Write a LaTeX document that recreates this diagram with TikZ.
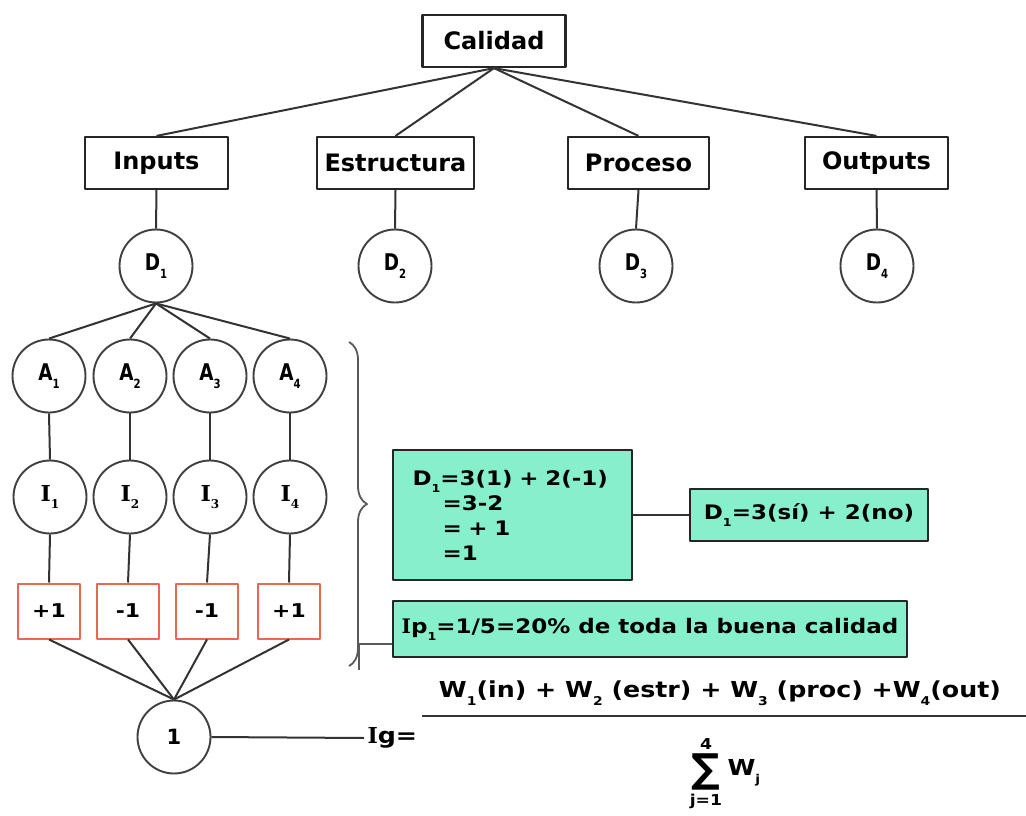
\documentclass[tikz,border=0pt]{standalone}
\usepackage{fontspec}
\usepackage{graphicx}
\setmainfont{DejaVu Sans}
\newfontfamily\wfont{DejaVu Sans}[FakeStretch=1.15]
\newfontfamily\nfont{DejaVu Sans}[FakeStretch=0.8]
\newfontfamily\serfont{DejaVu Serif}
\usetikzlibrary{decorations.pathreplacing}
\newcommand{\sbs}[1]{\raisebox{-0.35em}{\scalebox{0.55}{#1}}}
\newcommand{\fsz}[1]{\fontsize{#1}{#1}\selectfont}
\definecolor{mint}{RGB}{134,240,204}
\definecolor{rboxc}{RGB}{232,105,80}
\begin{document}
\begin{tikzpicture}[x=1pt,y=-1pt,line join=round,
  conn/.style={draw=black!80,line width=2pt},
  tbox/.style={draw=black!85,line width=2.2pt,minimum height=52pt,inner sep=0pt,font=\fsz{24}\bfseries},
  circ/.style={circle,draw=black!75,line width=1.9pt,minimum size=73pt,inner sep=0pt,fill=white},
  dlab/.style={font=\nfont\fsz{23}\bfseries},
  ilab/.style={font=\serfont\fsz{22}\bfseries},
  rbox/.style={draw=rboxc,line width=2pt,minimum width=62pt,minimum height=55pt,inner sep=0pt,fill=white,font=\wfont\fsz{19}\bfseries},
  gbox/.style={draw=black!85,fill=mint,line width=2.4pt,inner sep=0pt},
  ftext/.style={font=\wfont\fsz{22}\bfseries}
]
\fill[white] (0,0) rectangle (1026,816);
\useasboundingbox (0,0) rectangle (1026,816);

% top level
\node[tbox,minimum width=143pt] (cal) at (494,41) {Calidad};
\node[tbox,minimum width=143pt] (inp) at (156.5,163) {Inputs};
\node[tbox,minimum width=157pt] (est) at (395.5,163) {Estructura};
\node[tbox,minimum width=141pt] (pro) at (638.5,163) {Proceso};
\node[tbox,minimum width=143pt] (out) at (876.5,163) {Outputs};
\foreach \b in {inp,est,pro,out} \draw[conn] (cal.south) -- (\b.north);

% D circles
\node[circ,dlab] (d1) at (156,266) {D\sbs{1}};
\node[circ,dlab] (d2) at (395,266) {D\sbs{2}};
\node[circ,dlab] (d3) at (636,266) {D\sbs{3}};
\node[circ,dlab] (d4) at (877,266) {D\sbs{4}};
\draw[conn] (inp.south) -- (d1.north);
\draw[conn] (est.south) -- (d2.north);
\draw[conn] (pro.south) -- (d3.north);
\draw[conn] (out.south) -- (d4.north);

% A circles
\node[circ,dlab] (a1) at (49,376) {A\sbs{1}};
\node[circ,dlab] (a2) at (130,376) {A\sbs{2}};
\node[circ,dlab] (a3) at (210,376) {A\sbs{3}};
\node[circ,dlab] (a4) at (290,376) {A\sbs{4}};
\foreach \a in {a1,a2,a3,a4} \draw[conn] (d1.south) -- (\a.north);

% I circles
\node[circ,ilab] (i1) at (50,497) {I\sbs{1}};
\node[circ,ilab] (i2) at (130,497) {I\sbs{2}};
\node[circ,ilab] (i3) at (210,497) {I\sbs{3}};
\node[circ,ilab] (i4) at (290,497) {I\sbs{4}};
\foreach \n in {1,2,3,4} \draw[conn] (a\n.south) -- (i\n.north);

% red boxes
\node[rbox] (r1) at (49,611) {+1};
\node[rbox] (r2) at (128,611) {-1};
\node[rbox] (r3) at (207,611) {-1};
\node[rbox] (r4) at (289,611) {+1};
\foreach \n in {1,2,3,4} \draw[conn] (i\n.south) -- (r\n.north);

% bottom circle
\node[circ,font=\fsz{21}\bfseries] (one) at (174,737) {1};
\foreach \n in {1,2,3,4} \draw[conn] (r\n.south) -- (one.north);

% brace
\coordinate (brt) at (349,342);
\coordinate (brb) at (349,666);
\draw[decorate,decoration={brace,amplitude=18pt},draw=black!65,line width=1.8pt] (brt) -- (brb);

% green boxes
\node[gbox,minimum width=239pt,minimum height=130pt,text width=200pt,align=left,
      font=\wfont\fontsize{20}{25}\selectfont\bfseries] (g1) at (512.5,515)
  {D\sbs{1}=3(1) + 2(-1)\\\hspace*{30pt}=3-2\\\hspace*{30pt}= + 1\\\hspace*{30pt}=1};
\node[gbox,minimum width=238pt,minimum height=52pt,font=\wfont\fsz{20}\bfseries] (g2) at (809,515)
  {D\sbs{1}=3(sí) + 2(no)};
\draw[conn] (g1.east) -- (g2.west);

\node[gbox,minimum width=514pt,minimum height=56pt,font=\wfont\fsz{20}\bfseries] (ip) at (650,629)
  {{\serfont I}p\sbs{1}=1/5=20\% de toda la buena calidad};
\coordinate (ipk) at (359,644);
\coordinate (ipc) at (359,670);
\draw[conn,draw=black!65] (ip.west |- ipk) -- (ipk) -- (ipc);

% formula
\node[ftext,anchor=west] (ig) at (364,738) {{\serfont I}g=};
\draw[conn] (one.east) -- (ig.west);
\node[ftext] (num) at (720,693) {W\sbs{1}(in) + W\sbs{2} (estr) + W\sbs{3} (proc) +W\sbs{4}(out)};
\coordinate (barL) at (422,716);
\coordinate (barR) at (1026,716);
\draw[draw=black!80,line width=2.6pt] (barL) -- (barR);
\node[font=\fsz{40}\bfseries] (sig) at (706,772) {∑};
\node[font=\wfont\fsz{15}\bfseries] (sup4) at (706,744) {4};
\node[font=\wfont\fsz{15}\bfseries] (jsub) at (706,801) {j=1};
\node[ftext,anchor=west] (wj) at (724,773) {W\sbs{j}};
\end{tikzpicture}
\end{document}
